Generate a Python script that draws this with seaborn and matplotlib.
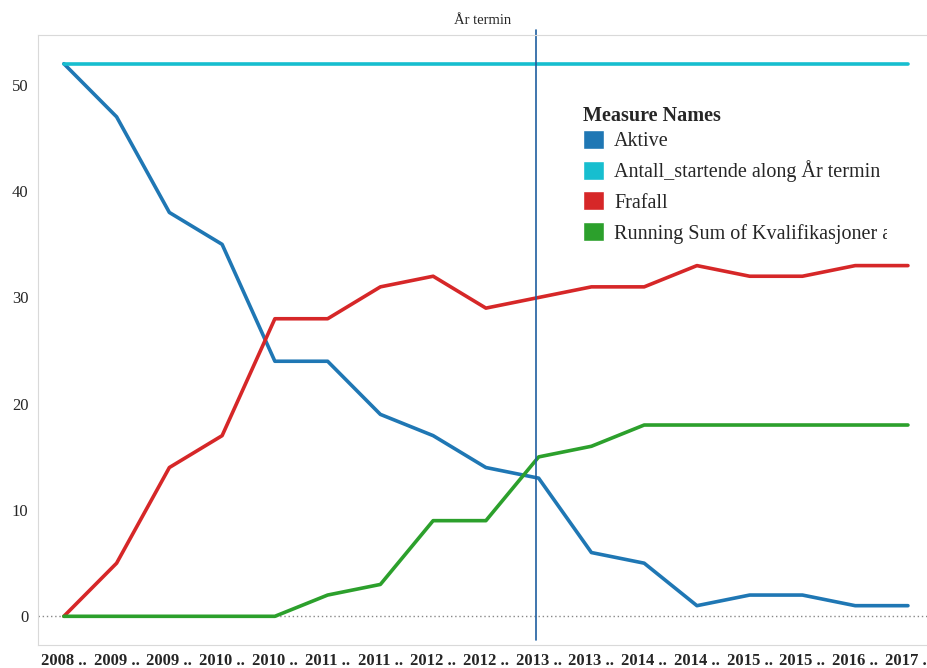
import pandas as pd
import numpy as np
import matplotlib
matplotlib.use("Agg")
import matplotlib.pyplot as plt
import matplotlib.transforms as mtransforms
from matplotlib.patches import Patch
import seaborn as sns

# Data
periods = ["2008 ..", "2009 ..", "2009 ..", "2010 ..", "2010 ..", "2011 ..", "2011 ..",
           "2012 ..", "2012 ..", "2013 ..", "2013 ..", "2014 ..", "2014 ..", "2015 ..",
           "2015 ..", "2016 ..", "2017 .."]
aktive = [52, 47, 38, 35, 24, 24, 19, 17, 14, 13, 6, 5, 1, 2, 2, 1, 1]
antall = [52] * 17
frafall = [0, 5, 14, 17, 28, 28, 31, 32, 29, 30, 31, 31, 33, 32, 32, 33, 33]
kvalif = [0, 0, 0, 0, 0, 2, 3, 9, 9, 15, 16, 18, 18, 18, 18, 18, 18]
ref_line_pos = 8.95

names = ["Aktive", "Antall_startende along År termin", "Frafall",
         "Running Sum of Kvalifikasjoner along År termin"]
colors = ["#1f77b4", "#17becf", "#d62728", "#2ca02c"]

# Long format for seaborn
frames = []
for name, vals in zip(names, [aktive, antall, frafall, kvalif]):
    frames.append(pd.DataFrame({"pos": range(len(periods)), "value": vals, "measure": name}))
df = pd.concat(frames, ignore_index=True)

sns.set_style("white")
plt.rcParams["font.family"] = ["Liberation Serif", "DejaVu Serif"]

fig = plt.figure(figsize=(9.28, 6.68), dpi=100)
ax = fig.add_axes([38 / 928, 1 - 645 / 668, 1 - 38 / 928, (645 - 35) / 668])

sns.lineplot(data=df, x="pos", y="value", hue="measure", hue_order=names,
             palette=dict(zip(names, colors)), linewidth=2.6, ax=ax, legend=False)

ax.axhline(0, color="#888888", linestyle=(0, (1, 2)), linewidth=1, zorder=0)
ax.axvline(ref_line_pos, ymin=0.008, ymax=1.008, color="#1f5fa0", linewidth=1.2, clip_on=False)

ax.set_yticks(range(0, 51, 10))
ax.set_yticklabels([str(v) for v in range(0, 51, 10)], fontsize=12)
ax.set_xticks(range(len(periods)))
ax.set_xticklabels(periods, fontsize=12, fontweight="bold")
ax.set_xticks(np.arange(-0.5, len(periods), 1), minor=True)
ax.tick_params(axis="x", which="major", length=0, pad=6)
ax.tick_params(axis="x", which="minor", length=7, color="#d9d9d9", width=1)
ax.tick_params(axis="y", length=4, color="#d9d9d9", pad=3)
ax.set_xlim(-0.49, 16.38)
ax.set_ylim(-2.7, 54.7)
ax.set_xlabel("")
ax.set_ylabel("")

for side in ["left", "top", "bottom"]:
    ax.spines[side].set_color("#d9d9d9")
ax.spines["right"].set_visible(False)

fig.text((38 + 928) / 2 / 928, 1 - 20 / 668, "År termin", ha="center", va="center", fontsize=10.5)

handles = [Patch(facecolor=c, edgecolor="white") for c in colors]
leg = ax.legend(handles, names, title="Measure Names", loc="upper left",
                bbox_to_anchor=(575 / 928, 1 - 98 / 668), bbox_transform=fig.transFigure,
                frameon=False, fontsize=14.5, handlelength=1.05, handleheight=1.05,
                handletextpad=0.5, labelspacing=0.45, borderaxespad=0)
leg.get_title().set_fontweight("bold")
leg.get_title().set_fontsize(14.5)
leg._legend_box.align = "left"
leg._legend_box.sep = 3
# the reference cuts the long legend label at the chart edge
clip = mtransforms.TransformedBbox(mtransforms.Bbox([[0, 0], [887 / 928, 1]]), fig.transFigure)
for t in leg.get_texts():
    t.set_clip_box(clip)
    t.set_clip_on(True)

plt.savefig("out.png", dpi=100)
plt.close()
